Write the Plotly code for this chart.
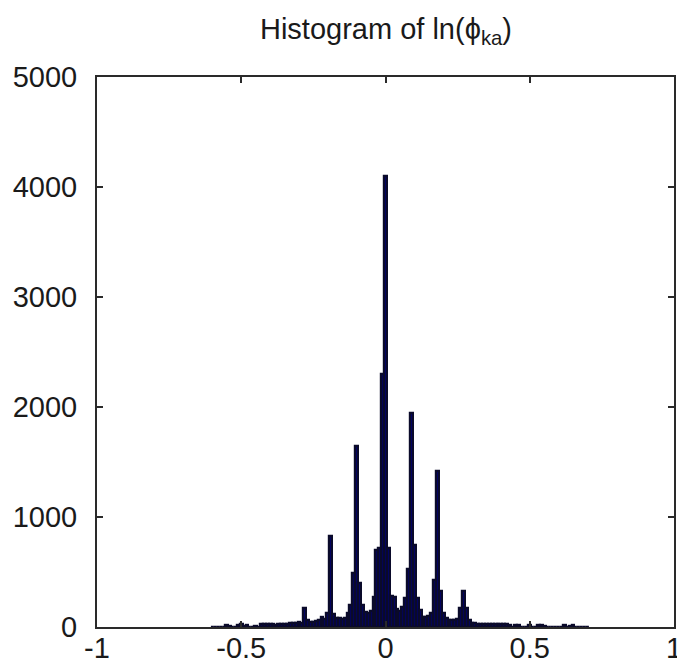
import numpy as np
import plotly.graph_objects as go

# bin centres (width 0.01) and counts
bin_centers = [round(-0.60 + 0.01 * i, 2) for i in range(131)]
counts = [
    0, 0, 0, 0, 0, 20, 10, 0, 0, 15,          # -0.60 .. -0.51
    25, 10, 20, 0, 0, 10, 0, 25, 25, 25,      # -0.50 .. -0.41
    30, 25, 20, 30, 30, 30, 30, 35, 35, 40,   # -0.40 .. -0.31
    45, 40, 170, 60, 50, 50, 55, 60, 90, 70,  # -0.30 .. -0.21
    130, 830, 120, 80, 80, 75, 85, 130, 200, 490,   # -0.20 .. -0.11
    1650, 400, 200, 140, 130, 150, 270, 700, 720, 2300,  # -0.10 .. -0.01
    4100,                                      # 0.00
    720, 280, 270, 160, 150, 180, 260, 530, 1950, 750,   # 0.01 .. 0.10
    260, 155, 90, 90, 100, 130, 430, 1420, 330, 130,     # 0.11 .. 0.20
    80, 65, 60, 60, 70, 170, 330, 170, 60, 40,           # 0.21 .. 0.30
    35, 30, 30, 30, 30, 30, 30, 30, 30, 25,              # 0.31 .. 0.40
    25, 25, 20, 0, 20, 15, 0, 0, 0, 20,                  # 0.41 .. 0.50
    0, 0, 15, 20, 10, 0, 0, 0, 0, 0,                     # 0.51 .. 0.60
    0, 15, 0, 10, 15, 0, 0, 0, 0, 0,                     # 0.61 .. 0.70
]
bin_width = 0.01

x_ticks = [-1, -0.5, 0, 0.5, 1]
x_tick_labels = ["-1", "-0.5", "0", "0.5", "1"]
y_ticks = [0, 1000, 2000, 3000, 4000, 5000]
y_tick_labels = ["0", "1000", "2000", "3000", "4000", "5000"]

title_text = "Histogram of ln(ϕ<sub>ka</sub>)"

fig = go.Figure()
fig.add_trace(go.Bar(
    x=bin_centers,
    y=counts,
    width=bin_width,
    marker=dict(color="#000070", line=dict(color="#0a0a2a", width=2.2)),
    showlegend=False,
))

font_family = "Liberation Sans, Arial, sans-serif"
axis_common = dict(
    showline=True, linecolor="#2a2a2a", linewidth=2, mirror="ticks",
    ticks="inside", ticklen=6, tickwidth=1.5, tickcolor="#2a2a2a",
    showgrid=False, zeroline=False, automargin=False,
    ticklabeloverflow="allow",
    tickfont=dict(family=font_family, size=29, color="#1a1a1a"),
)

fig.update_layout(
    width=677, height=670,
    margin=dict(l=97, r=3, t=77, b=43),
    paper_bgcolor="white", plot_bgcolor="white",
    bargap=0,
    title=dict(
        text=title_text, x=386 / 677, xanchor="center",
        y=1 - 29 / 670, yanchor="middle", yref="container", xref="container",
        font=dict(family=font_family, size=29, color="#1a1a1a"),
    ),
    xaxis=dict(range=[-1, 1], tickvals=x_ticks, ticktext=x_tick_labels,
               ticklabelstandoff=-6, **axis_common),
    yaxis=dict(range=[0, 5000], tickvals=y_ticks, ticktext=y_tick_labels,
               ticklabelstandoff=12, **axis_common),
)

fig.write_html(
    "out.html",
    config={"displayModeBar": False},
    post_script="document.body.style.margin='0';document.body.style.padding='0';",
)
